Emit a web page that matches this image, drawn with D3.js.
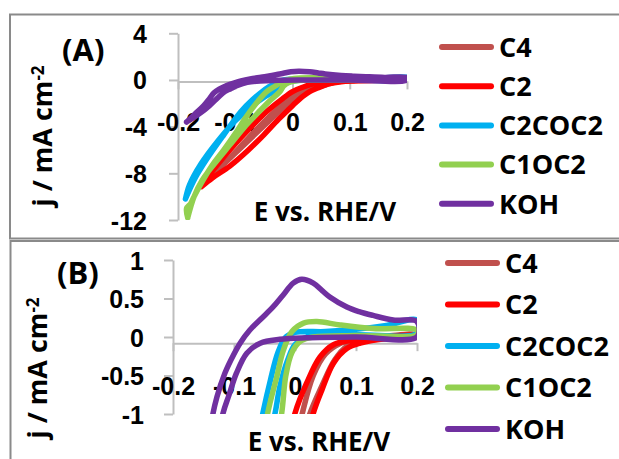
<!DOCTYPE html>
<html>
<head>
<meta charset="utf-8">
<script src="https://cdn.jsdelivr.net/npm/d3@7/dist/d3.min.js"></script>
<style>
  body { margin: 0; background: #fff; }
  svg { display: block; font-family: "Open Sans", "Lato", sans-serif; font-weight: 700; }
</style>
</head>
<body>
<svg id="chart" width="619" height="459"></svg>
<script>
// Series names and colours
const seriesNames = ["C4", "C2", "C2COC2", "C1OC2", "KOH"];
const seriesColors = ["#C0504D", "#FF0000", "#00B0F0", "#92D050", "#7030A0"];

// Axis ticks
const xTicks = [-0.2, -0.1, 0, 0.1, 0.2];
const yTicksA = [4, 0, -4, -8, -12];
const yTicksB = [1, 0.5, 0, -0.5, -1];

// Cyclic voltammograms: [E (V vs RHE), j (mA cm-2)], forward sweep then return sweep
const c4 = [
  [-0.156, -8.9], [-0.135, -7.9], [-0.11, -6.7], [-0.085, -5.4], [-0.06, -4.1], [-0.035, -2.9],
  [-0.01, -1.8], [0.012, -0.99], [0.03, -0.5], [0.05, -0.22], [0.075, -0.08], [0.11, -0.02],
  [0.15, 0.01], [0.2, 0.03],
  [0.2, 0.0], [0.15, -0.02], [0.11, -0.05], [0.085, -0.12], [0.065, -0.3], [0.045, -0.62],
  [0.022, -1.05], [-0.005, -1.9], [-0.03, -3.0], [-0.06, -4.4], [-0.09, -5.8], [-0.12, -7.2],
  [-0.145, -8.4], [-0.156, -8.9]
];
const c2 = [
  [-0.159, -9.14], [-0.14, -7.8], [-0.12, -6.6], [-0.095, -5.2], [-0.07, -3.9], [-0.045, -2.7],
  [-0.02, -1.7], [0.0, -0.99], [0.019, -0.6], [0.041, -0.26], [0.063, -0.1], [0.096, -0.04],
  [0.15, 0.0], [0.2, 0.02],
  [0.2, 0.0], [0.15, -0.02], [0.107, -0.08], [0.085, -0.15], [0.063, -0.34], [0.044, -0.69],
  [0.03, -0.99], [0.018, -1.4], [0.0, -2.2], [-0.025, -3.4], [-0.05, -4.7], [-0.077, -6.0],
  [-0.11, -7.4], [-0.14, -8.4], [-0.159, -9.14]
];
const c2coc2 = [
  [-0.187, -10.2], [-0.17, -8.4], [-0.15, -6.8], [-0.12, -4.7], [-0.09, -2.7], [-0.07, -1.7],
  [-0.053, -1.0], [-0.04, -0.55], [-0.028, -0.2], [-0.015, 0.0], [0.0, 0.06], [0.05, 0.07],
  [0.1, 0.1], [0.15, 0.15], [0.2, 0.22],
  [0.2, 0.05], [0.1, 0.03], [0.02, 0.0], [0.0, -0.1], [-0.012, -0.3], [-0.025, -0.65],
  [-0.033, -1.0], [-0.05, -1.5], [-0.07, -2.2], [-0.1, -3.5], [-0.13, -5.2], [-0.16, -7.2],
  [-0.18, -9.0], [-0.187, -10.2]
];
const c1oc2 = [
  [-0.183, -11.8], [-0.185, -11.0], [-0.178, -10.6], [-0.172, -10.0], [-0.16, -8.9], [-0.14, -7.3],
  [-0.12, -6.0], [-0.1, -4.6], [-0.08, -3.1], [-0.06, -1.8], [-0.045, -1.0], [-0.03, -0.52],
  [-0.019, -0.17], [-0.005, 0.07], [0.014, 0.18], [0.036, 0.2], [0.074, 0.156], [0.128, 0.11],
  [0.2, 0.09],
  [0.2, 0.03], [0.1, 0.02], [0.03, 0.0], [0.01, -0.05], [-0.005, -0.2], [-0.015, -0.5],
  [-0.022, -1.0], [-0.04, -1.8], [-0.06, -2.8], [-0.085, -4.1], [-0.11, -5.6], [-0.135, -7.1],
  [-0.158, -8.6], [-0.172, -10.0], [-0.183, -11.8]
];
const koh = [
  [-0.185, -3.6], [-0.17, -2.9], [-0.155, -2.2], [-0.145, -1.6], [-0.137, -1.1], [-0.128, -0.78],
  [-0.115, -0.47], [-0.1, -0.22], [-0.09, -0.08], [-0.074, 0.09], [-0.055, 0.24], [-0.036, 0.39],
  [-0.02, 0.54], [-0.003, 0.7], [0.011, 0.75], [0.03, 0.7], [0.045, 0.6], [0.057, 0.52],
  [0.085, 0.39], [0.105, 0.33], [0.128, 0.28], [0.161, 0.22], [0.2, 0.2],
  [0.2, 0.0], [0.1, 0.0], [0.019, -0.01], [-0.025, -0.03], [-0.057, -0.08], [-0.079, -0.21],
  [-0.096, -0.47], [-0.108, -0.75], [-0.118, -0.99], [-0.13, -1.5], [-0.145, -2.2],
  [-0.16, -2.8], [-0.175, -3.3], [-0.185, -3.6]
];
const seriesData = [c4, c2, c2coc2, c1oc2, koh];

const svg = d3.select("#chart");
const textColor = "#000";
const axisColor = "#BFBFBF";
const frameColor = "#8A8A8A";

// Panel definitions (layout only)
const panels = [
  {
    id: "A", label: "(A)", labelX: 62, labelY: 61,
    frame: { x: 10, y: 14.5, w: 620, h: 224 },
    xRange: [178, 407], yRange: [220, 33.3], yDomain: [-12, 4], yTicks: yTicksA,
    xCross: -0.12, xLabelTop: 113, yLabelRight: 147,
    xTitleX: 325, xTitleY: 221, yTitleX: 52, yTitleY: 136,
    legendX: 442, legendTop: 47, legendStep: 39.2
  },
  {
    id: "B", label: "(B)", labelX: 57, labelY: 284,
    frame: { x: 10.5, y: 241, w: 620, h: 230 },
    xRange: [173, 417], yRange: [414, 260], yDomain: [-1, 1], yTicks: yTicksB,
    xCross: -0.08, xLabelTop: 377, yLabelRight: 144,
    xTitleX: 319, xTitleY: 451, yTitleX: 47, yTitleY: 368,
    legendX: 448, legendTop: 263, legendStep: 41.5
  }
];

panels.forEach(p => {
  const g = svg.append("g");
  const x = d3.scaleLinear().domain([-0.2, 0.2]).range(p.xRange);
  const y = d3.scaleLinear().domain(p.yDomain).range(p.yRange);

  // chart frame
  g.append("rect")
    .attr("x", p.frame.x).attr("y", p.frame.y)
    .attr("width", p.frame.w).attr("height", p.frame.h)
    .attr("fill", "none").attr("stroke", frameColor).attr("stroke-width", 2);

  // vertical axis
  const yAxis = d3.axisLeft(y).tickValues(p.yTicks).tickSize(9).tickSizeOuter(0)
    .tickPadding(x(-0.2) - 9 - p.yLabelRight).tickFormat(d3.format("~g"));
  const yg = g.append("g").attr("transform", `translate(${x(-0.2)},0)`).call(yAxis);
  yg.select(".domain").attr("stroke", axisColor).attr("stroke-width", 2);
  yg.selectAll(".tick line").attr("stroke", axisColor).attr("stroke-width", 2);
  yg.selectAll(".tick text").attr("fill", textColor)
    .style("font-size", "25px").style("font-family", "inherit").style("font-weight", 700)
    .attr("dy", "0.36em");

  // horizontal axis
  const axisY = y(p.xCross);
  const xAxis = d3.axisBottom(x).tickValues(xTicks).tickSize(8).tickSizeOuter(0)
    .tickPadding(p.xLabelTop - axisY - 8).tickFormat(d3.format("~g"));
  const xg = g.append("g").attr("transform", `translate(0,${axisY})`).call(xAxis);
  xg.select(".domain").attr("stroke", axisColor).attr("stroke-width", 2);
  xg.selectAll(".tick line").attr("stroke", axisColor).attr("stroke-width", 2);
  xg.selectAll(".tick text").attr("fill", textColor)
    .style("font-size", "25px").style("font-family", "inherit").style("font-weight", 700)
    .attr("dy", "0.72em");
  g.selectAll(".tick text").text(d => d3.format("~g")(d).replace("\u2212", "-"));

  // plot area clip
  const clipId = "clip" + p.id;
  svg.append("clipPath").attr("id", clipId).append("rect")
    .attr("x", p.xRange[0]).attr("y", p.yRange[1])
    .attr("width", p.xRange[1] - p.xRange[0]).attr("height", p.yRange[0] - p.yRange[1]);

  const line = d3.line().x(d => x(d[0])).y(d => y(d[1])).curve(d3.curveCatmullRom.alpha(0.5));
  const plot = g.append("g").attr("clip-path", `url(#${clipId})`);
  seriesData.forEach((data, i) => {
    plot.append("path").datum(data)
      .attr("d", line)
      .attr("fill", "none")
      .attr("stroke", seriesColors[i])
      .attr("stroke-width", 5.5)
      .attr("stroke-linejoin", "round")
      .attr("stroke-linecap", "round");
  });

  // panel label
  g.append("text").attr("x", p.labelX).attr("y", p.labelY)
    .attr("fill", textColor).style("font-size", "31px").text(p.label);

  // axis titles
  g.append("text").attr("x", p.xTitleX).attr("y", p.xTitleY)
    .attr("text-anchor", "middle").attr("fill", textColor).style("font-size", "26px")
    .text("E vs. RHE/V");
  const yt = g.append("text")
    .attr("transform", `translate(${p.yTitleX},${p.yTitleY}) rotate(-90)`)
    .attr("text-anchor", "middle").attr("fill", textColor).style("font-size", "27px");
  yt.append("tspan").text("j / mA cm");
  yt.append("tspan").attr("dy", "-0.45em").style("font-size", "17px").text("-2");

  // legend
  const lg = g.append("g");
  seriesNames.forEach((name, i) => {
    const ly = p.legendTop + i * p.legendStep;
    lg.append("line").attr("x1", p.legendX).attr("x2", p.legendX + 49)
      .attr("y1", ly).attr("y2", ly)
      .attr("stroke", seriesColors[i]).attr("stroke-width", 6).attr("stroke-linecap", "round");
    lg.append("text").attr("x", p.legendX + 57).attr("y", ly).attr("dy", "0.36em")
      .attr("fill", textColor).style("font-size", "27px").text(name);
  });
});
</script>
</body>
</html>
